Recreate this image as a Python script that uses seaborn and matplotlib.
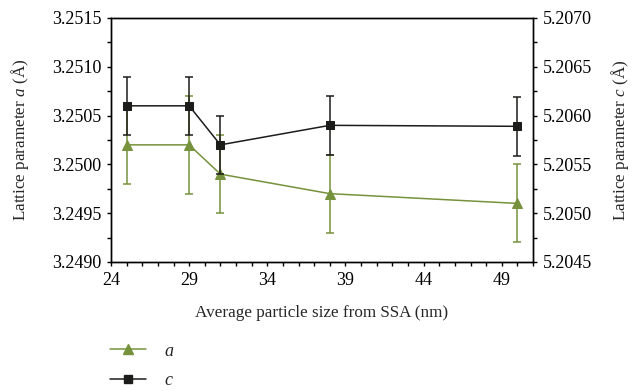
import matplotlib
matplotlib.use("Agg")
import matplotlib.pyplot as plt
import numpy as np
import pandas as pd
import seaborn as sns
from matplotlib.ticker import MultipleLocator, FormatStrFormatter
from matplotlib.lines import Line2D

# data
size_nm = [25, 29, 31, 38, 50]
lat_a = [3.2502, 3.2502, 3.2499, 3.2497, 3.2496]
err_a = [0.0004, 0.0005, 0.0004, 0.0004, 0.0004]
lat_c = [5.2061, 5.2061, 5.2057, 5.2059, 5.20589]
err_c = [0.0003, 0.0003, 0.0003, 0.0003, 0.0003]

green = "#76923c"
black = "#1c1c1a"

sns.set_style("ticks")
plt.rcParams["font.family"] = ["Liberation Serif", "DejaVu Serif"]
plt.rcParams["mathtext.fontset"] = "custom"
plt.rcParams["mathtext.it"] = "Liberation Serif:italic"
plt.rcParams["mathtext.rm"] = "Liberation Serif"

df_a = pd.DataFrame({"size": size_nm, "val": lat_a})
df_c = pd.DataFrame({"size": size_nm, "val": lat_c})

fig = plt.figure(figsize=(6.32, 3.91), dpi=100)
ax = fig.add_axes([0.1756, 0.330, 0.8434 - 0.1756, 0.954 - 0.330])
ax2 = ax.twinx()

ax.errorbar(size_nm, lat_a, yerr=err_a, fmt="none", ecolor=green, elinewidth=1.1, capsize=3, capthick=1.1)
sns.lineplot(data=df_a, x="size", y="val", ax=ax, color=green, marker="^", markersize=7,
             markeredgecolor=green, linewidth=1.1)

ax2.errorbar(size_nm, lat_c, yerr=err_c, fmt="none", ecolor=black, elinewidth=1.1, capsize=3, capthick=1.1)
sns.lineplot(data=df_c, x="size", y="val", ax=ax2, color=black, marker="s", markersize=6,
             markeredgecolor=black, linewidth=1.1)

ax.set_xlim(24, 51)
ax.set_ylim(3.2490, 3.2515)
ax2.set_ylim(5.2045, 5.2070)
ax.set_xticks([24, 29, 34, 39, 44, 49])
ax.xaxis.set_minor_locator(MultipleLocator(1))
for a in (ax, ax2):
    a.yaxis.set_major_locator(MultipleLocator(0.0005))
    a.yaxis.set_minor_locator(MultipleLocator(0.00025))
    a.yaxis.set_major_formatter(FormatStrFormatter("%.4f"))
    a.tick_params(which="both", direction="out", length=3, width=1, colors="black",
                  labelsize=13, pad=4)
    for s in a.spines.values():
        s.set_visible(True)
        s.set_linewidth(1)
        s.set_color("black")

ax.set_xlabel("Average particle size from SSA (nm)", fontsize=12.3, labelpad=12)
ax.set_ylabel("Lattice parameter $a$ (Å)", fontsize=12.3, labelpad=15)
ax2.set_ylabel("Lattice parameter $c$ (Å)", fontsize=12.3, labelpad=12)

handles = [
    Line2D([], [], color=green, marker="^", markersize=7, linewidth=1.1),
    Line2D([], [], color=black, marker="s", markersize=6, linewidth=1.1),
]
fig.legend(handles, ["$a$", "$c$"], loc="upper left", bbox_to_anchor=(0.174, 0.124),
           frameon=False, fontsize=13, handlelength=2.0, handletextpad=1.0,
           labelspacing=0.7, borderpad=0, borderaxespad=0)

fig.savefig("out.png", dpi=100)
